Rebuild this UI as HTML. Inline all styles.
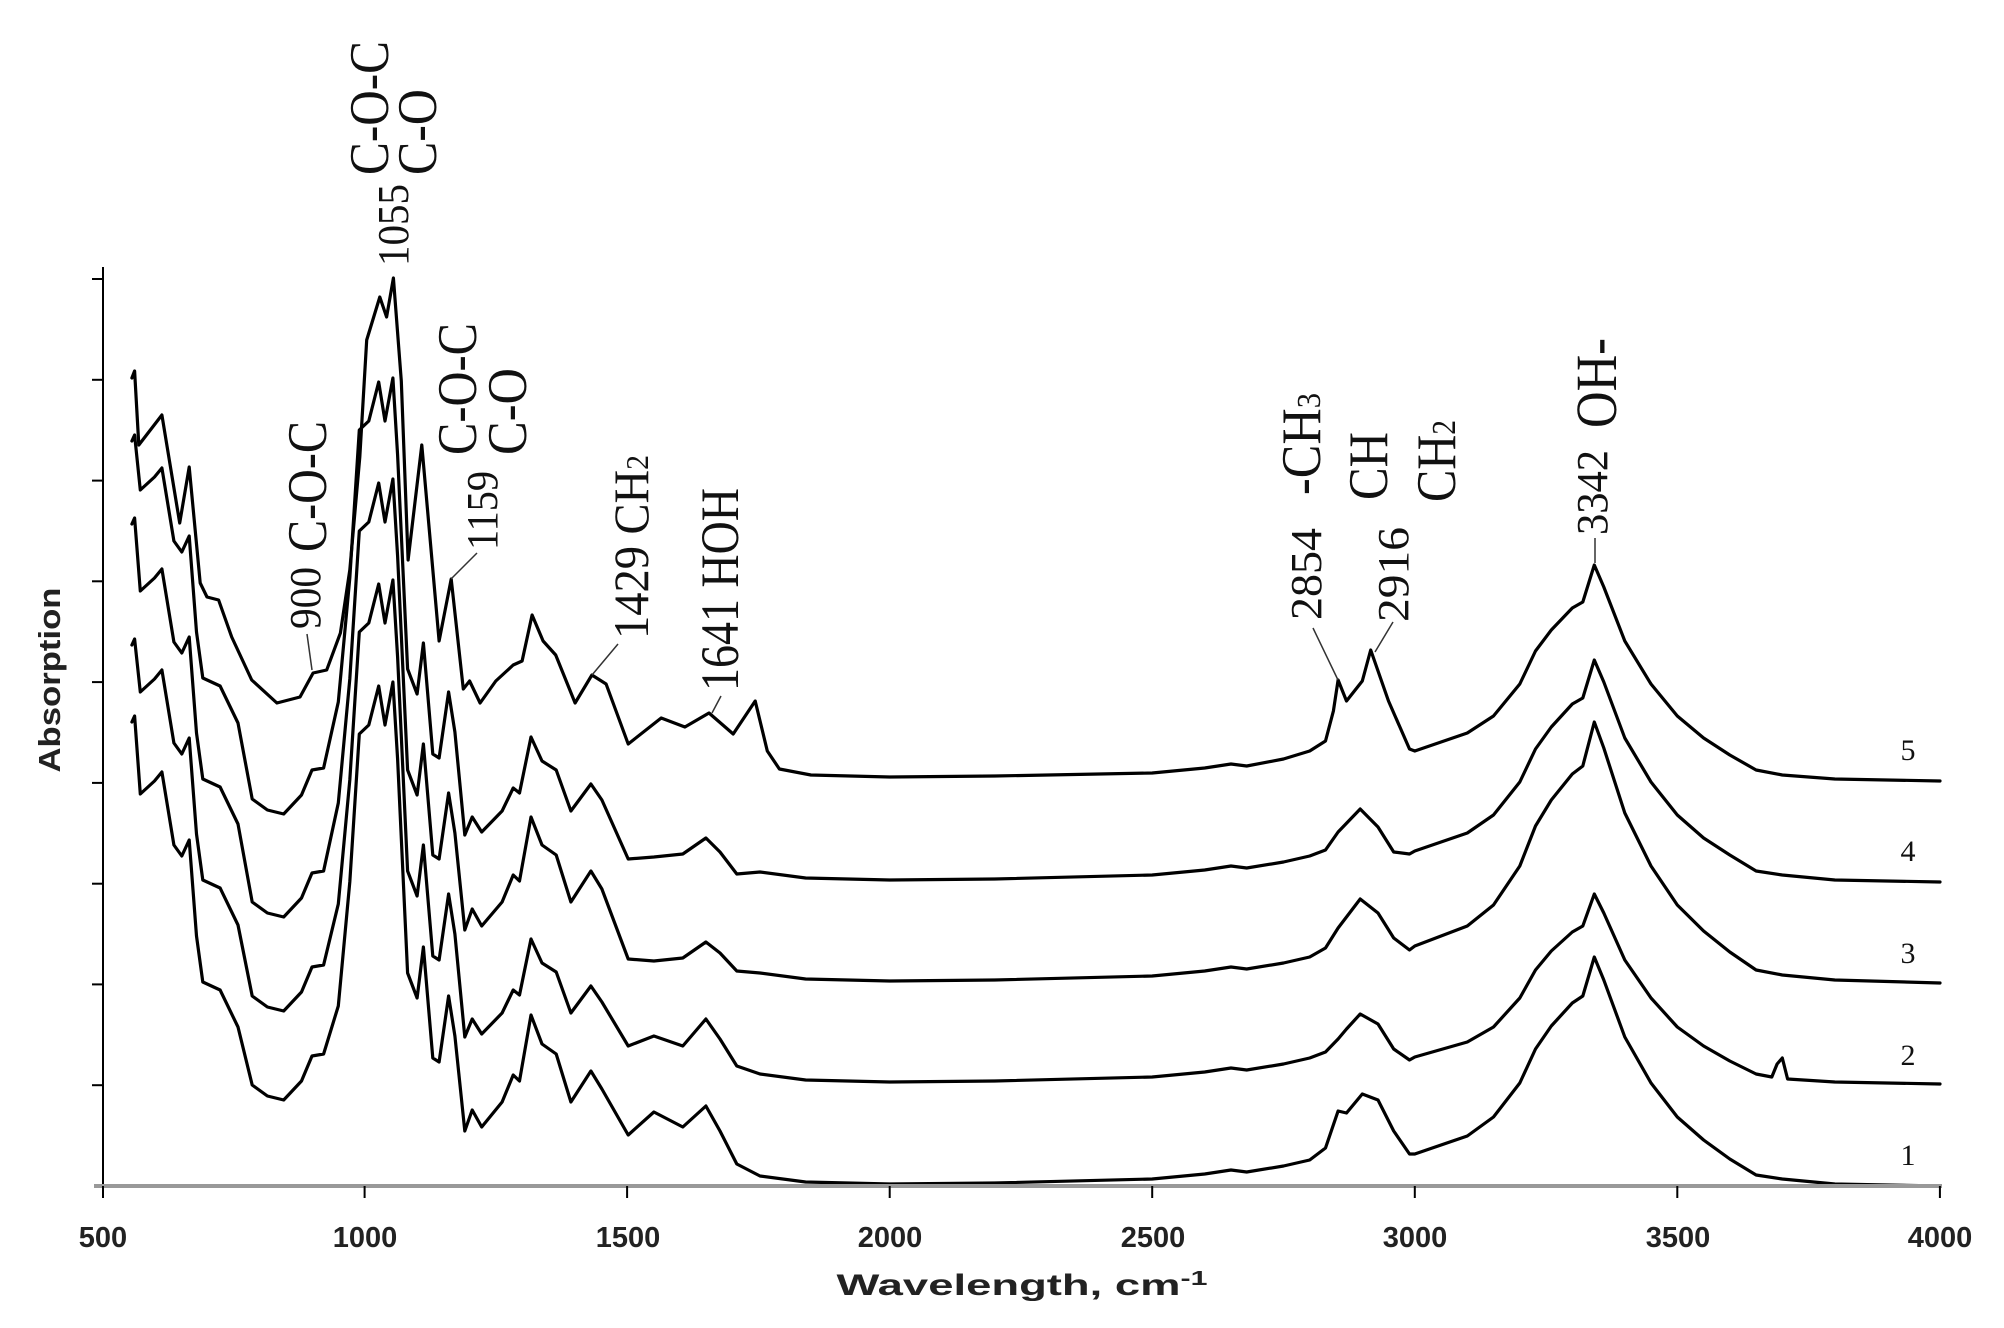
<!DOCTYPE html>
<html><head><meta charset="utf-8"><style>
html,body{margin:0;padding:0;background:#fff}
svg{display:block}
</style></head><body>
<svg xmlns="http://www.w3.org/2000/svg" width="2004" height="1328" viewBox="0 0 2004 1328">
<rect width="2004" height="1328" fill="#fff"/>
<g fill="none" stroke="#000" stroke-width="3.2" stroke-linejoin="round" stroke-linecap="round">
<polyline points="131.9,722 134.6,716 140.3,794 154.5,781 161.9,772 173.9,845 181.8,856 189.2,840 196.5,936 202.8,982 220.1,990 238,1027 252.2,1085 267.4,1096 283.7,1100 301.5,1081 312,1056 323.6,1054 338.3,1006 349.8,882 359.3,734 368.8,725 378.7,686 385,725 392.9,682 397.6,759 407.6,973 417.1,998 423.4,947 432.8,1058 439.1,1062 448.6,996 454.9,1036 464.8,1131 472.2,1110 481.7,1127 502.1,1102 513.2,1075 519.5,1081 531,1015 542,1044 556.2,1054 570.9,1102 590.9,1071 601.9,1089 628.2,1135 653.9,1112 682.8,1127 705.9,1106 720,1131 736.8,1164 760,1176 805.6,1182 889.7,1184 994.7,1183 1152.2,1179 1204.7,1174 1231,1170 1246.7,1172 1283.5,1166 1309.7,1160 1325.5,1148 1338.1,1111 1346.5,1113 1362.3,1094 1378,1100 1393.7,1131 1409.5,1154 1414.8,1154 1467.3,1136 1493.5,1117 1519.8,1083 1535.5,1049 1551.3,1026 1572.3,1003 1582.8,996 1594.3,957 1603.8,980 1624.8,1037 1651,1083 1677.3,1117 1703.6,1140 1729.8,1159 1756.1,1175 1782.3,1179 1834.8,1184 1940,1186"/>
<polyline points="131.9,645 134.6,639 140.3,692 154.5,679 161.9,670 173.9,743 181.8,754 189.2,738 196.5,834 202.8,880 220.1,888 238,925 252.2,996 267.4,1007 283.7,1011 301.5,992 312,967 323.6,965 338.3,904 349.8,780 359.3,632 368.8,623 378.7,584 385,623 392.9,580 397.6,657 407.6,871 417.1,896 423.4,845 432.8,956 439.1,960 448.6,894 454.9,934 464.8,1037 472.2,1019 481.7,1034 502.1,1013 513.2,990 519.5,995 531,939 542,963 556.2,972 570.9,1013 590.9,986 601.9,1002 628.2,1046 653.9,1036 682.8,1046 705.9,1019 720,1039 736.8,1066 760,1074 805.6,1080 889.7,1082 994.7,1081 1152.2,1077 1204.7,1072 1231,1068 1246.7,1070 1283.5,1064 1309.7,1058 1325.5,1052 1338.1,1039 1346.5,1029 1360.2,1014 1378,1024 1393.7,1049 1409.5,1060 1414.8,1057 1467.3,1042 1493.5,1027 1519.8,998 1535.5,970 1551.3,951 1572.3,932 1582.8,926 1594.3,894 1603.8,913 1624.8,960 1651,998 1677.3,1027 1703.6,1046 1729.8,1061 1756.1,1074 1771.8,1077 1777.1,1064 1782.3,1058 1787.6,1079 1834.8,1082 1940,1084"/>
<polyline points="131.9,524 134.6,518 140.3,591 154.5,578 161.9,569 173.9,642 181.8,653 189.2,637 196.5,733 202.8,779 220.1,787 238,824 252.2,902 267.4,913 283.7,917 301.5,898 312,873 323.6,871 338.3,803 349.8,679 359.3,531 368.8,522 378.7,483 385,522 392.9,479 397.6,556 407.6,770 417.1,795 423.4,744 432.8,855 439.1,859 448.6,793 454.9,833 464.8,930 472.2,909 481.7,926 502.1,902 513.2,875 519.5,881 531,817 542,845 556.2,855 570.9,902 590.9,871 601.9,889 628.2,959 653.9,961 682.8,958 705.9,942 720,953 736.8,971 760,973 805.6,979 889.7,981 994.7,980 1152.2,976 1204.7,971 1231,967 1246.7,969 1283.5,963 1309.7,957 1325.5,948 1338.1,928 1360.2,899 1378,913 1393.7,938 1409.5,950 1414.8,946 1467.3,926 1493.5,905 1519.8,866 1535.5,826 1551.3,800 1572.3,774 1582.8,766 1594.3,722 1603.8,748 1624.8,813 1651,866 1677.3,905 1703.6,931 1729.8,952 1756.1,970 1782.3,975 1834.8,980 1940,983"/>
<polyline points="131.9,441 134.6,435 140.3,490 154.5,477 161.9,468 173.9,541 181.8,552 189.2,536 196.5,632 202.8,678 220.1,686 238,723 252.2,799 267.4,810 283.7,814 301.5,795 312,770 323.6,768 338.3,702 349.8,578 359.3,430 368.8,421 378.7,382 385,421 392.9,378 397.6,455 407.6,669 417.1,694 423.4,643 432.8,754 439.1,758 448.6,692 454.9,732 464.8,835 472.2,817 481.7,832 502.1,811 513.2,788 519.5,793 531,737 542,761 556.2,770 570.9,811 590.9,784 601.9,800 628.2,859 653.9,857 682.8,854 705.9,838 720,852 736.8,874 760,872 805.6,878 889.7,880 994.7,879 1152.2,875 1204.7,870 1231,866 1246.7,868 1283.5,862 1309.7,856 1325.5,850 1338.1,832 1360.2,809 1378,827 1393.7,852 1409.5,854 1414.8,851 1467.3,833 1493.5,815 1519.8,782 1535.5,749 1551.3,727 1572.3,704 1582.8,698 1594.3,660 1603.8,682 1624.8,738 1651,782 1677.3,815 1703.6,838 1729.8,855 1756.1,871 1782.3,875 1834.8,880 1940,882"/>
<polyline points="131.9,378 134.6,371 138.8,445 161.9,415 179.7,523 189.2,467 200.2,583 207,597 218.6,600 231.7,637 251.7,680 276.9,703 300,697 313.1,673 326.7,670 340.4,633 349.8,570 359.8,457 366.7,340 379.8,297 386.6,317 393.4,278 401.3,381 408.1,560 421.8,445 439.1,641 451.2,579 463.3,689 469.6,681 480.1,703 495.8,681 513.2,665 522.1,661 532.1,615 543.1,641 555.7,655 575.1,703 591.9,675 606.1,684 628.2,744 661.2,718 684.9,727 709,713 733.2,734 755.2,701 767.3,751 779.4,769 810.9,775 889.7,777 994.7,776 1152.2,773 1204.7,768 1231,764 1246.7,766 1283.5,759 1309.7,751 1325.5,741 1333.4,711 1338.1,680 1346.5,701 1362.3,681 1370.7,650 1388.5,701 1409.5,749 1414.8,751 1467.3,733 1493.5,716 1519.8,684 1535.5,651 1551.3,630 1572.3,608 1582.8,602 1594.3,565 1603.8,587 1624.8,641 1651,684 1677.3,716 1703.6,738 1729.8,755 1756.1,770 1782.3,775 1834.8,779 1940,781"/>
</g>
<line x1="103" y1="267" x2="103" y2="1186" stroke="#000" stroke-width="2"/>
<line x1="94" y1="1186" x2="1942" y2="1186" stroke="#999" stroke-width="4"/>
<g stroke="#000" stroke-width="2">
<line x1="92" y1="279" x2="103" y2="279"/><line x1="92" y1="379.8" x2="103" y2="379.8"/><line x1="92" y1="480.6" x2="103" y2="480.6"/><line x1="92" y1="581.3" x2="103" y2="581.3"/><line x1="92" y1="682.1" x2="103" y2="682.1"/><line x1="92" y1="782.9" x2="103" y2="782.9"/><line x1="92" y1="883.7" x2="103" y2="883.7"/><line x1="92" y1="984.4" x2="103" y2="984.4"/><line x1="92" y1="1085.2" x2="103" y2="1085.2"/>
<line x1="103" y1="1186" x2="103" y2="1198"/><line x1="364.6" y1="1186" x2="364.6" y2="1198"/><line x1="627.1" y1="1186" x2="627.1" y2="1198"/><line x1="889.7" y1="1186" x2="889.7" y2="1198"/><line x1="1152.2" y1="1186" x2="1152.2" y2="1198"/><line x1="1414.8" y1="1186" x2="1414.8" y2="1198"/><line x1="1677.3" y1="1186" x2="1677.3" y2="1198"/><line x1="1939.9" y1="1186" x2="1939.9" y2="1198"/>
</g>
<g font-family="Liberation Sans, sans-serif" font-weight="bold" font-size="29" fill="#222" text-anchor="middle">
<text x="103" y="1247">500</text><text x="365" y="1247">1000</text><text x="628" y="1247">1500</text><text x="890" y="1247">2000</text><text x="1153" y="1247">2500</text><text x="1415" y="1247">3000</text><text x="1678" y="1247">3500</text><text x="1940" y="1247">4000</text>
<text x="1022" y="1295" font-size="30" textLength="371" lengthAdjust="spacingAndGlyphs">Wavelength, cm<tspan font-size="20" dy="-10">-1</tspan></text>
<text transform="translate(60,680) rotate(-90)" font-size="31" textLength="185" lengthAdjust="spacingAndGlyphs">Absorption</text>
</g>
<g font-family="Liberation Serif, serif" font-size="30" fill="#111" text-anchor="middle">
<text x="1908" y="760">5</text><text x="1908" y="861">4</text><text x="1908" y="963">3</text><text x="1908" y="1065">2</text><text x="1908" y="1165">1</text>
</g>
<g font-family="Liberation Serif, serif" fill="#111">
<text transform="translate(408,266) rotate(-90)" font-size="44" textLength="82" lengthAdjust="spacingAndGlyphs">1055</text>
<text transform="translate(388,175) rotate(-90)" font-size="56" textLength="134" lengthAdjust="spacingAndGlyphs">C-O-C</text>
<text transform="translate(436,175) rotate(-90)" font-size="56" textLength="86" lengthAdjust="spacingAndGlyphs">C-O</text>
<text transform="translate(497,550) rotate(-90)" font-size="44" textLength="79" lengthAdjust="spacingAndGlyphs">1159</text>
<text transform="translate(476,455) rotate(-90)" font-size="56" textLength="132" lengthAdjust="spacingAndGlyphs">C-O-C</text>
<text transform="translate(526,455) rotate(-90)" font-size="56" textLength="87" lengthAdjust="spacingAndGlyphs">C-O</text>
<text transform="translate(320,629) rotate(-90)" font-size="44" textLength="62" lengthAdjust="spacingAndGlyphs">900</text>
<text transform="translate(326,552) rotate(-90)" font-size="56" textLength="131" lengthAdjust="spacingAndGlyphs">C-O-C</text>
<text transform="translate(648,639) rotate(-90)" font-size="50" textLength="184" lengthAdjust="spacingAndGlyphs">1429 CH<tspan font-size="32">2</tspan></text>
<text transform="translate(738,691) rotate(-90)" font-size="54" textLength="203" lengthAdjust="spacingAndGlyphs">1641 HOH</text>
<text transform="translate(1321,620) rotate(-90)" font-size="44" textLength="92" lengthAdjust="spacingAndGlyphs">2854</text>
<text transform="translate(1320,495) rotate(-90)" font-size="56" textLength="102" lengthAdjust="spacingAndGlyphs">-CH<tspan font-size="34">3</tspan></text>
<text transform="translate(1408,622) rotate(-90)" font-size="44" textLength="95" lengthAdjust="spacingAndGlyphs">2916</text>
<text transform="translate(1387,500) rotate(-90)" font-size="56" textLength="68" lengthAdjust="spacingAndGlyphs">CH</text>
<text transform="translate(1455,502) rotate(-90)" font-size="56" textLength="82" lengthAdjust="spacingAndGlyphs">CH<tspan font-size="34">2</tspan></text>
<text transform="translate(1607,535) rotate(-90)" font-size="44" textLength="85" lengthAdjust="spacingAndGlyphs">3342</text>
<text transform="translate(1616,428) rotate(-90)" font-size="58" textLength="90" lengthAdjust="spacingAndGlyphs">OH-</text>
</g>
<g stroke="#333" stroke-width="1.5" fill="none">
<line x1="307" y1="634" x2="312" y2="670"/>
<line x1="477" y1="553" x2="451" y2="579"/>
<line x1="618" y1="644" x2="592" y2="675"/>
<line x1="721" y1="696" x2="712" y2="713"/>
<line x1="1313" y1="628" x2="1338" y2="680"/>
<line x1="1393" y1="622" x2="1375" y2="652"/>
<line x1="1595" y1="538" x2="1595" y2="563"/>
</g>
</svg>
</body></html>
